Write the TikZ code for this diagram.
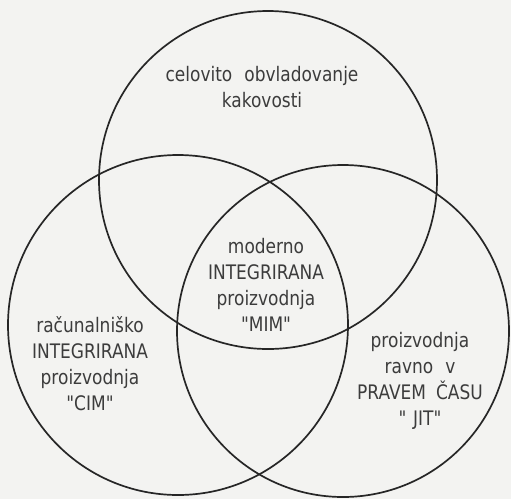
\documentclass[tikz,border=0pt]{standalone}
\usepackage{fontspec}
\newfontfamily\letterfont{DejaVu Sans}[FakeStretch=0.85]
\definecolor{ink}{HTML}{262626}
\definecolor{paper}{HTML}{F3F3F1}
\tikzset{%
  x=1pt, y=-1pt, % one unit is one pixel of the scan, y runs downwards
  set/.style={circle, draw=ink, line width=1.7pt, inner sep=0pt, outer sep=0pt}, % the three overlapping fields
  caption/.style={text=ink!90, align=center, inner sep=0pt,
    font=\letterfont\fontsize{20}{26}\selectfont}
}

\begin{document}
\begin{tikzpicture}
  \fill[paper] (0,0) rectangle (511,499);
  \useasboundingbox (0,0) rectangle (511,499);

  % the three fields
  \node[set, minimum size=338pt] (tqm) at (268,180) {};
  \node[set, minimum size=340pt] (cim) at (178,325) {};
  \node[set, minimum size=332pt] (jit) at (343,331) {};

  % what each field stands for
  \node[caption] (tqmtext) at (262,87) {celovito\hspace{12pt}obvladovanje\\kakovosti};
  \node[caption] (mimtext) at (266,285) {moderno\\INTEGRIRANA\\proizvodnja\\"MIM"};
  \node[caption] (cimtext) at (90,364) {računalniško\\INTEGRIRANA\\proizvodnja\\"CIM"};
  \node[caption] (jittext) at (420,381) {proizvodnja\\ravno\hspace{12pt}v\\PRAVEM\hspace{10pt}ČASU\\"\,\,JIT"};
\end{tikzpicture}
\end{document}
